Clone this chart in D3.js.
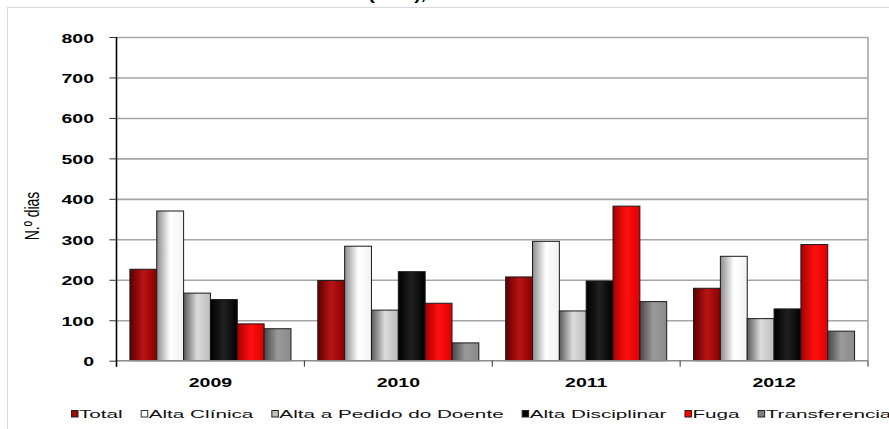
<!DOCTYPE html>
<html><head><meta charset="utf-8">
<script src="https://cdn.jsdelivr.net/npm/d3@7"></script>
<style>html,body{margin:0;padding:0;background:#fff;overflow:hidden}</style>
</head><body>
<script>
const titleLine = "(dias), 2009-2012";
const yAxisTitle = "N.º dias";
const categories = ["2009", "2010", "2011", "2012"];
const seriesNames = ["Total", "Alta Clínica", "Alta a Pedido do Doente", "Alta Disciplinar", "Fuga", "Transferencias"];
const total        = [226, 198, 207, 179];
const altaClinica  = [370, 283, 295, 258];
const altaPedido   = [167, 125, 123, 104];
const altaDiscipl  = [151, 220, 197, 128];
const fuga         = [91, 142, 382, 287];
const transf       = [79, 44, 146, 73];
const yTicks = [0, 100, 200, 300, 400, 500, 600, 700, 800];

const seriesValues = [total, altaClinica, altaPedido, altaDiscipl, fuga, transf];
const grads = [
  ["#5c0000", "#b81414", "#8a0000"],
  ["#8c8c8c", "#ffffff", "#f2f2f2"],
  ["#5a5a5a", "#dcdcdc", "#bdbdbd"],
  ["#000000", "#202020", "#000000"],
  ["#a80000", "#ff1010", "#e00000"],
  ["#474747", "#9a9a9a", "#8a8a8a"]
];
const legendFill = ["#9c0a0a", "#ffffff", "#c0c0c0", "#000000", "#ff0000", "#808080"];

const W = 889, H = 429;
const FONT = "Arial, 'Liberation Sans', sans-serif";
const SX = 1.5;
const svg = d3.select("body").append("svg").attr("width", W).attr("height", H);
const defs = svg.append("defs");
grads.forEach((g, i) => {
  const lg = defs.append("linearGradient").attr("id", "g" + i).attr("x1", "0").attr("x2", "1").attr("y1", "0").attr("y2", "0");
  lg.append("stop").attr("offset", "0%").attr("stop-color", g[0]);
  lg.append("stop").attr("offset", "50%").attr("stop-color", g[1]);
  lg.append("stop").attr("offset", "100%").attr("stop-color", g[2]);
});

svg.append("rect").attr("x", 7.5).attr("y", 7.5).attr("width", 1000).attr("height", 1000)
  .attr("fill", "none").attr("stroke", "#d9d9d9").attr("stroke-width", 1);

function stext(g, x, y, str, opts) {
  return g.append("text")
    .attr("transform", `translate(${x},${y}) scale(${opts.sx || SX},1)` + (opts.rot ? ` rotate(${opts.rot})` : ""))
    .attr("text-anchor", opts.anchor || "start")
    .attr("font-family", FONT)
    .attr("font-size", opts.size || 13)
    .attr("font-weight", opts.weight || "normal")
    .attr("fill", opts.fill || "#000")
    .text(str);
}

// title (mostly clipped at the top edge, as in the reference)
stext(svg, 446.5, -0.5, titleLine, {anchor: "middle", weight: "bold", size: 13});

const L = 116.5, R = 868, T = 37, B = 360.7;
const x0 = d3.scaleBand().domain(categories).range([L, R]).paddingInner(0).paddingOuter(0);
const x1 = d3.scaleBand().domain(seriesNames).range([x0.bandwidth() / 14, x0.bandwidth() - x0.bandwidth() / 14]).padding(0);
const y = d3.scaleLinear().domain([0, 800]).range([B, T]);

const grid = svg.append("g").attr("transform", `translate(${L},0)`)
  .call(d3.axisLeft(y).tickValues(yTicks.slice(1)).tickSize(-(R - L)).tickFormat(""));
grid.select(".domain").remove();
grid.selectAll("line").attr("stroke", "#a6a6a6").attr("stroke-width", 1.6);

svg.append("line").attr("x1", R).attr("x2", R).attr("y1", T).attr("y2", B)
  .attr("stroke", "#a6a6a6").attr("stroke-width", 1.6);

const groups = svg.append("g").selectAll("g").data(categories).join("g")
  .attr("transform", d => `translate(${x0(d)},0)`);
groups.selectAll("rect")
  .data((c, ci) => seriesNames.map((s, si) => ({s, si, v: seriesValues[si][ci]})))
  .join("rect")
  .attr("x", d => x1(d.s))
  .attr("width", x1.bandwidth())
  .attr("y", d => y(d.v))
  .attr("height", d => B - y(d.v))
  .attr("fill", d => `url(#g${d.si})`)
  .attr("stroke", "#1a1a1a")
  .attr("stroke-width", 1);

svg.append("line").attr("x1", L).attr("x2", R).attr("y1", B).attr("y2", B)
  .attr("stroke", "#8c8c8c").attr("stroke-width", 1.6);
const bounds = categories.map(c => x0(c)).concat([R]);
svg.append("g").selectAll("line").data(bounds).join("line")
  .attr("x1", d => d).attr("x2", d => d).attr("y1", B).attr("y2", B + 6)
  .attr("stroke", "#333").attr("stroke-width", 1);
const xl = svg.append("g").attr("transform", `translate(0,${B})`)
  .call(d3.axisBottom(x0).tickSize(0).tickPadding(0));
xl.select(".domain").remove();
xl.selectAll("text")
  .attr("y", 0).attr("dy", 0)
  .attr("transform", "translate(0,26) scale(1.5,1)")
  .attr("font-family", FONT).attr("font-size", 13).attr("font-weight", "bold").attr("fill", "#000");

const ya = svg.append("g").attr("transform", `translate(${L},0)`)
  .call(d3.axisLeft(y).tickValues(yTicks).tickSize(7));
ya.select(".domain").attr("stroke", "#000").attr("stroke-width", 1.6).attr("d", `M0,${T}V${B + 6}`);
ya.selectAll(".tick line").attr("stroke", "#333").attr("stroke-width", 1);
ya.selectAll(".tick text")
  .attr("x", 0).attr("dy", 0)
  .attr("transform", "translate(-22.5,5) scale(1.5,1)")
  .attr("font-family", FONT).attr("font-size", 13).attr("font-weight", "bold").attr("fill", "#000");

stext(svg, 38.5, 216, yAxisTitle, {anchor: "middle", size: 14, rot: -90});

const lg = svg.append("g");
let lx = 71;
const LSX = 1.8;
seriesNames.forEach((s, i) => {
  lg.append("rect").attr("x", lx + 0.5).attr("y", 410.5).attr("width", 6.5).attr("height", 6.5)
    .attr("fill", legendFill[i]).attr("stroke", i === 1 ? "#333" : "#222").attr("stroke-width", 1);
  const t = stext(lg, lx + 8, 418, s, {size: 11.5, sx: LSX, fill: "#111"});
  const w = t.node().getComputedTextLength() * LSX;
  lx += 8 + w + 18;
});
</script>
</body></html>
